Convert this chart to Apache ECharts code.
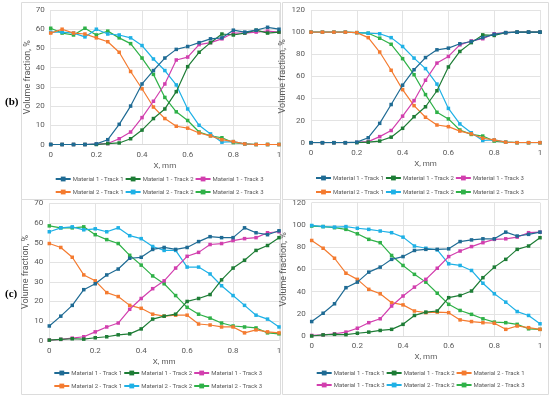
<!DOCTYPE html>
<html><head><meta charset="utf-8">
<script src="https://cdn.jsdelivr.net/npm/echarts@6/dist/echarts.min.js"></script>
<style>html,body{margin:0;padding:0;background:#fff}#c{width:550px;height:396px}</style>
</head><body><div id="c"></div>
<script>
var xValues = [0,0.05,0.1,0.15,0.2,0.25,0.3,0.35,0.4,0.45,0.5,0.55,0.6,0.65,0.7,0.75,0.8,0.85,0.9,0.95,1];
var seriesNames = ['Material 1 - Track 1','Material 1 - Track 2','Material 1 - Track 3','Material 2 - Track 1','Material 2 - Track 2','Material 2 - Track 3'];
var xTicks = [0,0.2,0.4,0.6,0.8,1];
var yTicksPct = [0,10,20,30,40,50,60,70];
var yTicksFull = [0,20,40,60,80,100,120];

// (b) left
var bL_m1t1 = [0,0,0,0,0.3,2.5,10.5,20,31.5,38.5,45,49.5,51,53,55,55.5,59.5,58.5,59.5,61,60];
var bL_m1t2 = [0,0,0,0,0,0.5,0.8,3,7.5,13.5,18.5,27.5,40.5,48,53,57.5,57,58,59.5,58,58.5];
var bL_m1t3 = [0,0,0,0,0.2,0.5,3,6.5,14,22.5,31.5,44,45.5,52,53,55,58,58,58.5,59,58.5];
var bL_m2t1 = [58,60,58,57.5,55.5,53.5,48,38,29,19.5,13.5,9.5,8.5,6,4.5,2.5,1.5,0.3,0,0,0];
var bL_m2t2 = [58.5,58.5,58,56,60,57.5,57,55.5,51.5,44.5,38.5,31,18.5,10,5.5,1.2,1.5,0.3,0,0,0];
var bL_m2t3 = [60.5,58,57,60.5,57,59,55.5,52.5,45,36.5,24.5,17,12.5,6.5,4.5,3.5,1,0.3,0,0,0];
// (b) right
var bR_m1t1 = [0,0,0,0,0.5,4.5,17.5,34.5,52,66,77,84,85.5,89.5,91.5,95,98,99.5,100,100,100];
var bR_m1t2 = [0,0,0,0,0,0.5,1.5,5,13,23.5,32.5,47,68.5,82.5,90.5,97.5,97,99.5,100,100,100];
var bR_m1t3 = [0,0,0,0,0.3,1,5.5,11,24,38,56.5,72,78,88.5,92,94,98.5,99.5,100,100,100];
var bR_m2t1 = [100,100,100,100,99.5,95,82,65.5,48,33.5,23,16,14.5,10.5,8,4,2.5,0.5,0,0,0];
var bR_m2t2 = [100,100,100,100,99.5,99,98.5,95,87,76.5,67,53,31,17,9,2,2.5,0.5,0,0,0];
var bR_m2t3 = [100,100,100,100,99.5,99,94.5,89,76,61.5,43.5,27.5,21.5,11.5,7.5,6,1.5,0.5,0,0,0];
// (c) left
var cL_m1t1 = [7.5,12.5,18,26,29,33.5,36.5,42,42.5,46.5,47.5,46.5,47.5,50.5,53,52.5,52.5,57.5,55,54,56];
var cL_m1t2 = [0.3,0.7,1,0.8,1.5,2,3,3.5,6,11,12.5,13.5,20,21.5,23.5,31,37,41,46,48.5,52.5];
var cL_m1t3 = [0.3,0.7,1.3,2,4.5,7,9,16,21.5,26.5,30.5,37,43,45,49,49.5,51,52,52.5,55,55.5];
var cL_m2t1 = [49.5,47.5,42.5,33.5,30.5,24.5,22.5,18,16.5,13.5,12.5,13,13,8.5,8,7,7,4,5.5,4.5,4];
var cL_m2t2 = [55.5,57.5,58,56.5,57,55.5,57.5,53.5,52,48,46,46,37.5,37.5,34,28,23,18,13,11,7];
var cL_m2t3 = [58.5,57.5,57.5,58,54,51.5,49.5,43.5,38.5,33,29,23,17,13.5,11.5,9,7.5,7,6.5,4,3.5];
// (c) right
var cR_m1t1 = [13,20.5,29,43.5,48.5,57.5,62,69,71.5,77,78,78,78.5,85,86.5,87.5,87.5,93.5,90,91.5,93.5];
var cR_m1t2 = [0,1,1.5,1.2,2.5,3.5,5,6,10.5,18.5,21.5,22.5,34.5,36.5,40.5,52.5,62,69,78,81,88.5];
var cR_m1t3 = [0.5,1,2,3.5,7,12,15.5,27,36,44,51,61,71.5,76.5,80.5,84,87,87.5,89,93,93.5];
var cR_m2t1 = [86,79,70,56.5,51,42,38,30,28,22.5,21,21.5,21,14.5,13,12,11.5,6,9,7.5,6];
var cR_m2t2 = [99.5,98.5,98,98.5,97,96,94.5,93,89,81,79,77.5,65,63.5,59,47.5,38,30.5,22,18.5,11];
var cR_m2t3 = [99,98.5,97.5,96,92,87,84,72.5,63.5,55.5,48.5,38.5,28.5,23,19.5,15.5,12.5,12,10.5,6.5,6];

var colors = ['#1f6b94','#1e7d36','#d23fae','#f47b30','#1fb1e6','#2fb148'];
var FONT = 'Roboto';
var panels = [
  {data:[bL_m1t1,bL_m1t2,bL_m1t3,bL_m2t1,bL_m2t2,bL_m2t3], grid:{left:50.7,top:10,width:228.3,height:134.5}, ymax:70, yint:10, ygap:17, leg:[176,189], order:[[0,1,2],[3,4,5]]},
  {data:[bR_m1t1,bR_m1t2,bR_m1t3,bR_m2t1,bR_m2t2,bR_m2t3], grid:{left:311,top:10,width:229,height:132.7}, ymax:120, yint:20, ygap:18, leg:[175,189], order:[[0,1,2],[3,4,5]]},
  {data:[cL_m1t1,cL_m1t2,cL_m1t3,cL_m2t1,cL_m2t2,cL_m2t3], grid:{left:49.3,top:203.3,width:229.7,height:137.4}, ymax:70, yint:10, ygap:16, leg:[370,383], order:[[0,1,2],[3,4,5]]},
  {data:[cR_m1t1,cR_m1t2,cR_m1t3,cR_m2t1,cR_m2t2,cR_m2t3], grid:{left:311.7,top:202.7,width:228.3,height:133.3}, ymax:120, yint:20, ygap:19, leg:[370,382], order:[[0,1,3],[2,4,5]]}
];

var option = {animation:false, grid:[], xAxis:[], yAxis:[], series:[], legend:[], graphic:[]};
var gridLine = {show:true, lineStyle:{color:'#e3e3e3', width:1}};
panels.forEach(function(p, i){
  option.grid.push(p.grid);
  option.xAxis.push({type:'value', gridIndex:i, min:0, max:1, interval:0.2,
    name:'X, mm', nameLocation:'middle', nameGap:17,
    nameTextStyle:{color:'#595959', fontSize:8, fontFamily:FONT},
    axisLine:{show:true, lineStyle:{color:'#d9d9d9'}}, axisTick:{show:false},
    axisLabel:{color:'#595959', fontSize:8, fontFamily:FONT, margin:6},
    splitLine:gridLine});
  option.yAxis.push({type:'value', gridIndex:i, min:0, max:p.ymax, interval:p.yint,
    name:'Volume fraction, %', nameLocation:'middle', nameGap:p.ygap,
    nameTextStyle:{color:'#595959', fontSize:9, fontFamily:FONT},
    axisLine:{show:false}, axisTick:{show:false},
    axisLabel:{color:'#595959', fontSize:8, fontFamily:FONT, margin:6},
    splitLine:gridLine});
  p.data.forEach(function(vals, k){
    option.series.push({type:'line', name:seriesNames[k], xAxisIndex:i, yAxisIndex:i,
      data:xValues.map(function(x, j){return [x, vals[j]];}),
      symbol:'rect', symbolSize:3.5, showSymbol:true,
      lineStyle:{color:colors[k], width:1.2}, itemStyle:{color:colors[k]}, z:10-k});
  });
  p.order.forEach(function(row, r){
    option.legend.push({data:row.map(function(k){return seriesNames[k];}),
      left:p.grid.left - 1, top:p.leg[r]-5, itemWidth:15, itemHeight:6, itemGap:1,
      selectedMode:false,
      textStyle:{color:'#595959', fontSize:6, fontFamily:FONT, padding:[0,0,0,-3]}});
  });
});
// panel frames
[[21,2,259,197],[282,2,266,197],[21,199,259,195],[282,199,266,195]].forEach(function(r){
  option.graphic.push({type:'rect', shape:{x:r[0]+0.5,y:r[1]+0.5,width:r[2],height:r[3]}, style:{fill:'none', stroke:'#dcdcdc', lineWidth:1}, silent:true});
});
option.graphic.push({type:'text', left:5, top:97, style:{text:'(b)', font:'bold 11px "Liberation Serif", serif', fill:'#000'}});
option.graphic.push({type:'text', left:5, top:289, style:{text:'(c)', font:'bold 11px "Liberation Serif", serif', fill:'#000'}});

var chart = echarts.init(document.getElementById('c'), null, {renderer:'canvas'});
chart.setOption(option);
</script></body></html>
